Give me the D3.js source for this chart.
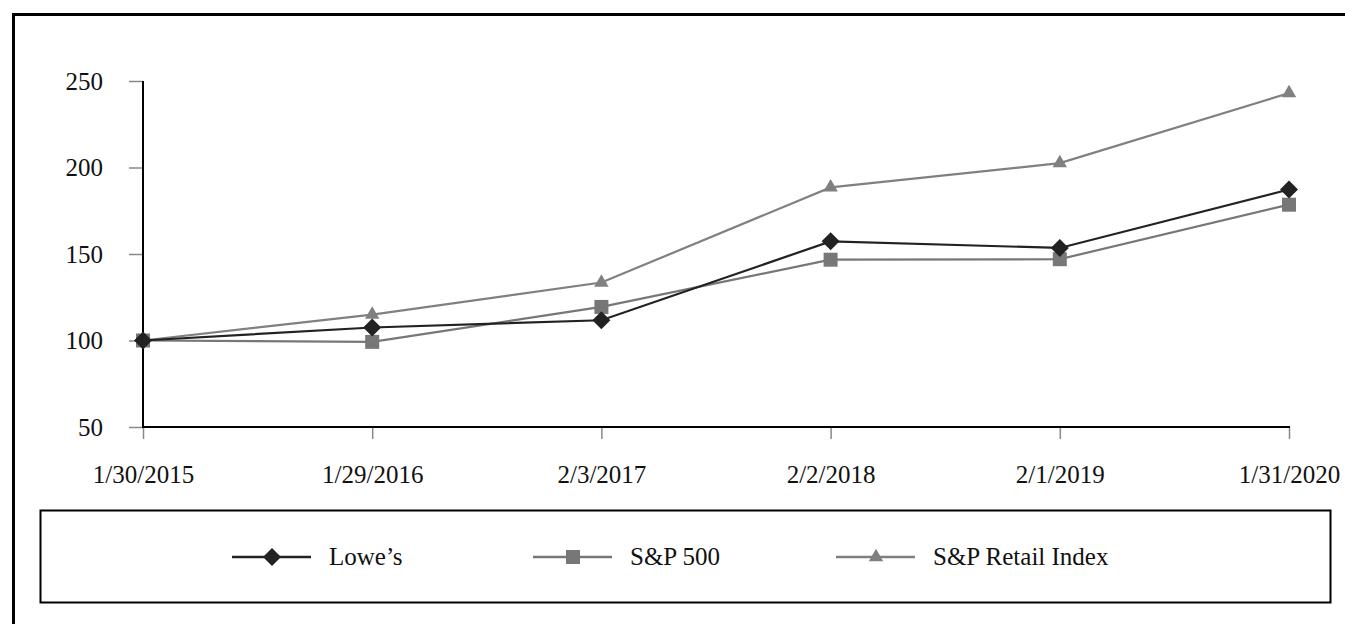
<!DOCTYPE html>
<html>
<head>
<meta charset="utf-8">
<script src="https://cdn.jsdelivr.net/npm/d3@7"></script>
<style>
    html, body { margin: 0; padding: 0; background: #fff; }
    svg { display: block; font-family: "Liberation Serif", "Times New Roman", serif; }
</style>
</head>
<body>
<svg id="chart" width="1345" height="624"></svg>
<script>
// Data
const dates = ['1/30/2015', '1/29/2016', '2/3/2017', '2/2/2018', '2/1/2019', '1/31/2020'];
const lowes = [100, 107.5, 111.7, 157.3, 153.5, 187.3];
const sp500 = [100, 99.2, 119.4, 146.7, 147.0, 178.5];
const retail = [100, 115, 133.5, 188.5, 202.5, 243];
const yTicks = [50, 100, 150, 200, 250];

const series = [
    { name: 'Lowe\u2019s', values: lowes, color: '#222222', symbol: 'diamond' },
    { name: 'S&P 500', values: sp500, color: '#777777', symbol: 'square' },
    { name: 'S&P Retail Index', values: retail, color: '#808080', symbol: 'triangle' }
];

const d3svg = d3.select('#chart');

// Outer frame (runs off the right and bottom edge)
d3svg.append('rect')
    .attr('x', 13.5).attr('y', 14.5)
    .attr('width', 1400).attr('height', 700)
    .attr('fill', 'none').attr('stroke', '#000').attr('stroke-width', 3);

// Scales
const xScale = d3.scalePoint().domain(dates).range([143, 1289]);
const yScale = d3.scaleLinear().domain([50, 250]).range([427, 81]);

// Y axis
const yAxis = d3.axisLeft(yScale).tickValues(yTicks).tickSize(14).tickPadding(26).tickFormat(d3.format('d'));
const gy = d3svg.append('g').attr('transform', 'translate(143,0)').call(yAxis);
gy.select('.domain').remove();
gy.selectAll('.tick line').attr('stroke', '#888').attr('stroke-width', 1.5);
gy.selectAll('.tick text').attr('font-size', 25).attr('fill', '#111').attr('font-family', '"Liberation Serif", serif');
d3svg.append('line')
    .attr('x1', 143).attr('x2', 143).attr('y1', 81).attr('y2', 428)
    .attr('stroke', '#000').attr('stroke-width', 2);

// X axis
const xAxis = d3.axisBottom(xScale).tickSize(12).tickPadding(26);
const gx = d3svg.append('g').attr('transform', 'translate(0,427)').call(xAxis);
gx.select('.domain').remove();
gx.selectAll('.tick line').attr('stroke', '#888').attr('stroke-width', 1.5);
gx.selectAll('.tick text').attr('font-size', 25).attr('fill', '#111').attr('font-family', '"Liberation Serif", serif');
d3svg.append('line')
    .attr('x1', 142).attr('x2', 1290).attr('y1', 427).attr('y2', 427)
    .attr('stroke', '#000').attr('stroke-width', 2);

// Symbols
const symbolFor = {
    diamond: d3.symbol().type(d3.symbolSquare).size(162),
    square: d3.symbol().type(d3.symbolSquare).size(196),
    triangle: d3.symbol().type(d3.symbolTriangle).size(90)
};
function drawSymbol(g, s, x, y) {
    g.append('path')
        .attr('d', symbolFor[s.symbol]())
        .attr('fill', s.color)
        .attr('transform', 'translate(' + x + ',' + y + ')' + (s.symbol === 'diamond' ? ' rotate(45)' : ''));
}

// Lines, drawn back to front
const line = d3.line().x((d, i) => xScale(dates[i])).y((d) => yScale(d));
series.slice().reverse().forEach((s) => {
    const g = d3svg.append('g');
    g.append('path')
        .datum(s.values)
        .attr('d', line)
        .attr('fill', 'none')
        .attr('stroke', s.color)
        .attr('stroke-width', 2.2);
    s.values.forEach((v, i) => drawSymbol(g, s, xScale(dates[i]), yScale(v)));
});

// Legend
d3svg.append('rect')
    .attr('x', 40.5).attr('y', 510.5)
    .attr('width', 1290).attr('height', 92)
    .attr('fill', 'none').attr('stroke', '#000').attr('stroke-width', 2);

const legendX = [232, 533, 836];
series.forEach((s, i) => {
    const g = d3svg.append('g').attr('transform', 'translate(' + legendX[i] + ',557)');
    g.append('line')
        .attr('x1', 0).attr('x2', 79)
        .attr('stroke', s.color).attr('stroke-width', 2.5);
    drawSymbol(g, s, 40, 0);
    g.append('text')
        .attr('x', 97).attr('y', 8)
        .attr('font-size', 25).attr('fill', '#111')
        .text(s.name);
});
</script>
</body>
</html>
